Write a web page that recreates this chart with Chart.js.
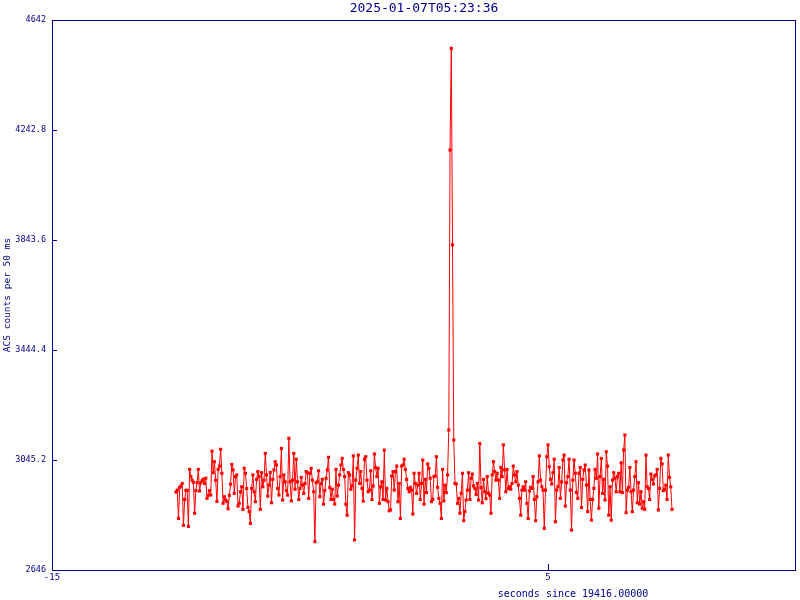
<!DOCTYPE html>
<html>
<head>
<meta charset="utf-8">
<script src="https://cdn.jsdelivr.net/npm/chart.js@4.4.1/dist/chart.umd.min.js"></script>
<style>
html,body{margin:0;padding:0;background:#fff;}
canvas{display:block;}
</style>
</head>
<body>
<canvas id="c" width="800" height="600"></canvas>
<script>
// ---- data ----
const titleText = "2025-01-07T05:23:36";
const xAxisLabel = "seconds since 19416.00000";
const yAxisLabel = "ACS counts per 50 ms";
const tStart = -10;      // seconds, first bin
const tStep = 0.05;      // 50 ms bins
const xTicks = [-15, 5];
const yTicks = [2646, 3045.2, 3444.4, 3843.6, 4242.8, 4642];
const xRange = [-15, 15];
const yRange = [2646, 4642];

const counts = [
 2929,2936,2833,2946,2951,2960,2808,2902,2935,2935,2804,3011,2985,2972,2964,2852,2934,2963,3011,2933,
 2963,2970,2976,2960,2979,2906,2917,2934,2918,3077,2999,3039,2972,2895,3011,3023,3084,2997,2888,2912,
 2900,2895,2868,2917,2957,3029,3009,
 2924,2985,2991,2878,2888,2930,2948,2866,3015,2997,2942,2873,2858,2815,2942,2991,2930,2894,2975,3003,
 2985,2866,2999,2948,2972,3069,2991,2914,2954,3000,2890,2975,3009,3039,3027,2942,2918,2985,3087,2900,
 2991,2966,2934,2918,3124,2966,2897,2972,3069,2939,3048,2966,
 2902,2942,2982,2954,2924,2960,3003,2999,2906,2997,3015,2972,2930,2749,2963,2966,3006,2912,2960,2975,
 2885,2934,2979,3009,3055,2946,2902,2939,2902,2885,3011,2914,2954,2991,3027,3051,3011,2985,2885,2845,
 2999,2991,2939,2951,3060,2755,2972,3015,3063,2960,3003,2942,
 2896,3048,3057,2972,2930,2936,3006,2902,2951,3067,3018,2985,3015,2888,2948,2966,2902,3081,2900,2942,
 2894,2861,2864,2987,3003,2936,3003,3023,2894,2960,2833,3023,3027,3048,3011,2975,2942,2930,2946,2936,
 2849,2997,2960,2924,2954,2997,2902,2960,3045,2885,2975,
 2927,3031,3015,2979,2894,2902,2985,2987,3057,2946,2906,2888,2833,3011,2897,2954,2927,2991,
 3154,4170,4539,3826,3118,
 2960,2958,2888,2906,2852,2924,2997,2825,2858,2900,2936,2999,2902,2979,2994,2951,2942,
 2920,2960,2900,3105,2945,2890,2975,2930,2905,2985,2925,
 2918,2852,2991,3039,3003,2972,2997,2972,2906,3018,2985,3100,3009,2930,3011,2942,2948,2939,2960,3023,
 2991,2966,3003,2954,2906,2845,2936,2948,2936,2966,2888,2833,2933,2946,2942,2985,2902,2825,2912,2966,
 3060,2972,2948,2936,2797,2936,3057,3100,3021,2975,2958,2999,
 3048,2821,2936,2948,3018,2906,2966,3045,3063,2878,2963,2985,3048,2936,2791,2972,3045,2997,2927,2906,
 2997,3018,2873,2975,3009,3027,2954,2858,3009,2902,2827,2902,2942,3011,2979,3067,2870,2985,3051,2924,
 2975,2900,3075,3023,2845,2948,2827,2972,2999,2979,2930,2985,
 2997,2930,3035,2927,3081,3136,2854,2936,2946,3018,2930,2858,2936,2985,3039,2890,2963,2885,2930,2870,
 2894,2866,3063,2948,2942,2902,2994,2975,2958,2987,2991,3011,2864,2942,3051,3031,2934,2939,2954,2902,
 3063,2982,2948,2866
];

// ---- styles ----
const NAVY = '#00008b';
const RED = '#ff0000';
const FONT = "'DejaVu Sans Mono', 'Liberation Mono', monospace";

const points = counts.map((v, i) => ({ x: +(tStart + i * tStep).toFixed(2), y: v }));

const framePlugin = {
  id: 'frame',
  afterDraw(chart) {
    const { ctx, chartArea: a, scales } = chart;
    ctx.save();
    ctx.strokeStyle = NAVY;
    ctx.lineWidth = 1;
    const L = Math.round(a.left) + 0.5, T = Math.round(a.top) + 0.5;
    const R = Math.round(a.right) - 0.5, B = Math.round(a.bottom) + 0.5;
    ctx.strokeRect(L, T, R - L, B - T);
    ctx.beginPath();
    yTicks.forEach(v => {
      const y = Math.round(scales.y.getPixelForValue(v)) + 0.5;
      ctx.moveTo(a.left, y); ctx.lineTo(a.left + 5, y);
    });
    xTicks.forEach(v => {
      const x = Math.round(scales.x.getPixelForValue(v)) + 0.5;
      ctx.moveTo(x, a.bottom); ctx.lineTo(x, a.bottom - 6);
    });
    ctx.stroke();
    // title
    ctx.fillStyle = NAVY;
    ctx.textAlign = 'center';
    ctx.textBaseline = 'middle';
    ctx.font = '13px ' + FONT;
    ctx.fillText(titleText, (a.left + a.right) / 2, 9);
    // x axis label
    ctx.font = '10px ' + FONT;
    ctx.fillText(xAxisLabel, 573, 594);
    // y axis label
    ctx.save();
    ctx.translate(8, (a.top + a.bottom) / 2);
    ctx.rotate(-Math.PI / 2);
    ctx.font = '9.5px ' + FONT;
    ctx.fillText(yAxisLabel, 0, 0);
    ctx.restore();
    ctx.restore();
  }
};

new Chart(document.getElementById('c'), {
  type: 'line',
  data: {
    datasets: [{
      data: points,
      borderColor: RED,
      borderWidth: 1,
      backgroundColor: RED,
      pointStyle: 'rect',
      pointRadius: 2.2,
      pointBorderWidth: 0,
      pointBackgroundColor: RED,
      tension: 0,
      fill: false
    }]
  },
  options: {
    responsive: false,
    animation: false,
    events: [],
    layout: { padding: { top: 20, right: 1, left: 0, bottom: 0 } },
    plugins: { legend: { display: false }, title: { display: false }, tooltip: { enabled: false } },
    scales: {
      x: {
        type: 'linear',
        min: xRange[0], max: xRange[1],
        grid: { display: false, drawTicks: false, tickLength: 0 },
        border: { display: false },
        afterBuildTicks: s => { s.ticks = xTicks.map(v => ({ value: v })); },
        afterFit: s => { s.height = 30; },
        ticks: {
          color: NAVY, font: { family: FONT, size: 9 }, padding: 2,
          maxRotation: 0, autoSkip: false,
          callback: v => String(v)
        }
      },
      y: {
        min: yRange[0], max: yRange[1],
        grid: { display: false, drawTicks: false, tickLength: 0 },
        border: { display: false },
        afterBuildTicks: s => { s.ticks = yTicks.map(v => ({ value: v })); },
        afterFit: s => { s.width = 52; },
        ticks: {
          color: NAVY, font: { family: FONT, size: 8.5 }, padding: 6,
          autoSkip: false,
          callback: v => String(v)
        }
      }
    }
  },
  plugins: [framePlugin]
});
</script>
</body>
</html>
